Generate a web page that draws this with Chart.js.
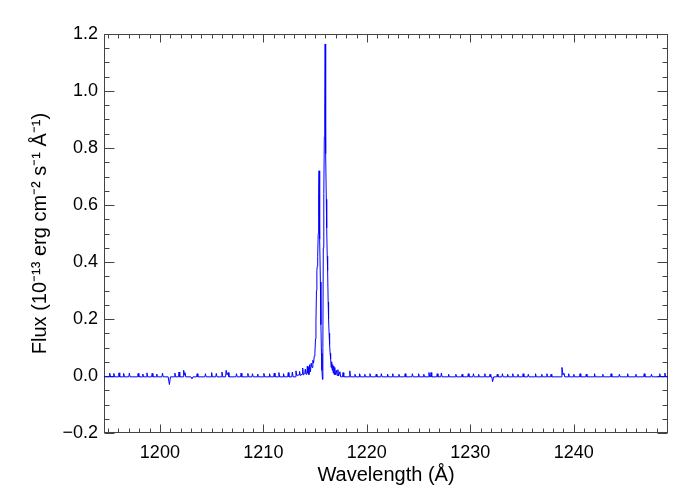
<!DOCTYPE html>
<html>

<head>
    <title>Espectro Lyman alpha</title>
    <script src="https://cdn.jsdelivr.net/npm/chart.js@4.4.2/dist/chart.umd.min.js"></script>
    <style>
        body {
            margin: 0;
            background: #fff;
        }

        .chartBox {
            width: 700px;
            height: 500px;
        }
    </style>
</head>

<body>
    <div class="chartBox">
        <canvas id="spectrumChart" width="700" height="500"></canvas>
    </div>
    <script>
        // wavelength (Å) and flux (1e-13 erg cm-2 s-1 Å-1)
        var wavelength = [
            1194.60, 1195.10, 1195.15, 1195.22, 1195.50, 1195.55, 1195.62, 1196.00, 1196.05, 1196.12,
            1196.45, 1196.50, 1196.57, 1197.00, 1197.05, 1197.12, 1197.85, 1197.90, 1197.97,
            1198.30, 1198.35, 1198.42, 1198.70, 1198.75, 1198.82, 1199.20, 1199.25, 1199.32,
            1199.65, 1199.70, 1199.77, 1200.20, 1200.25, 1200.32, 1200.80, 1200.92, 1201.02,
            1201.40, 1201.45, 1201.52, 1201.80, 1201.85, 1201.92, 1202.25, 1202.30, 1202.35,
            1202.42, 1202.50, 1203.00, 1203.10, 1203.20, 1203.55, 1203.60, 1203.67,
            1204.35, 1204.40, 1204.47, 1204.95, 1205.00, 1205.07, 1205.40, 1205.45, 1205.52,
            1205.95, 1206.00, 1206.07, 1206.35, 1206.40, 1206.50, 1206.60, 1206.67,
            1207.35, 1207.40, 1207.47, 1207.80, 1207.85, 1207.92, 1208.45, 1208.50, 1208.57,
            1208.90, 1208.95, 1209.02, 1209.40, 1209.45, 1209.52, 1210.00, 1210.05, 1210.12,
            1210.55, 1210.60, 1210.67, 1211.00, 1211.05, 1211.12, 1211.45, 1211.50, 1211.57,
            1211.90, 1211.95, 1212.02, 1212.35, 1212.40, 1212.47, 1212.75, 1212.80, 1212.87,
            1213.10, 1213.15, 1213.22, 1213.45, 1213.50, 1213.57, 1213.75, 1213.80, 1213.87,
            1214.00, 1214.05, 1214.12, 1214.20, 1214.25,
            // Lyman alpha
            1214.30, 1214.35, 1214.40, 1214.48, 1214.55, 1214.62, 1214.70, 1214.78, 1214.85, 1214.92,
            1214.98, 1215.04, 1215.08, 1215.13, 1215.17, 1215.21, 1215.25, 1215.30, 1215.34, 1215.38,
            1215.42, 1215.46, 1215.51, 1215.56, 1215.61, 1215.66, 1215.71, 1215.75, 1215.79, 1215.84,
            1215.89, 1215.93, 1215.97, 1216.00, 1216.04, 1216.08, 1216.12, 1216.17, 1216.21, 1216.26,
            1216.30, 1216.35, 1216.40, 1216.45, 1216.50, 1216.55, 1216.60, 1216.65, 1216.70, 1216.75,
            1216.80, 1216.85, 1216.90, 1216.95, 1217.05, 1217.12, 1217.20, 1217.27, 1217.40, 1217.47,
            1217.65, 1217.70, 1217.77, 1218.30, 1218.35, 1218.42,
            // continuum
            1218.80, 1218.85, 1218.92, 1219.25, 1219.30, 1219.37, 1219.75, 1219.80, 1219.87,
            1220.25, 1220.30, 1220.37, 1220.85, 1220.90, 1220.97, 1221.35, 1221.40, 1221.47,
            1221.95, 1222.00, 1222.07, 1222.45, 1222.50, 1222.57, 1223.05, 1223.10, 1223.17,
            1223.65, 1223.70, 1223.77, 1224.35, 1224.40, 1224.47, 1224.95, 1225.00, 1225.07,
            1225.45, 1225.50, 1225.57, 1225.95, 1226.00, 1226.07, 1226.15, 1226.20, 1226.27,
            1226.75, 1226.80, 1226.87, 1227.15, 1227.20, 1227.27, 1227.85, 1227.90, 1227.97,
            1228.55, 1228.60, 1228.67, 1229.15, 1229.20, 1229.27, 1229.75, 1229.80, 1229.87,
            1230.25, 1230.30, 1230.37, 1230.75, 1230.80, 1230.87, 1231.35, 1231.40, 1231.47,
            1231.85, 1231.90, 1231.97, 1232.07, 1232.15, 1232.25, 1232.55, 1232.60, 1232.67,
            1233.05, 1233.10, 1233.17, 1233.55, 1233.60, 1233.67, 1234.05, 1234.10, 1234.17,
            1234.55, 1234.60, 1234.67, 1235.05, 1235.10, 1235.17, 1235.55, 1235.60, 1235.67,
            1236.25, 1236.30, 1236.37, 1236.85, 1236.90, 1236.97, 1237.35, 1237.40, 1237.47,
            1237.75, 1237.80, 1237.87, 1238.78, 1238.85, 1238.95, 1239.05, 1239.12, 1239.45,
            1239.50, 1239.57, 1239.95, 1240.00, 1240.07, 1240.55, 1240.60, 1240.67,
            1241.15, 1241.20, 1241.27, 1241.95, 1242.00, 1242.07, 1242.75, 1242.80, 1242.87,
            1243.55, 1243.60, 1243.67, 1244.35, 1244.40, 1244.47, 1245.15, 1245.20, 1245.27,
            1245.95, 1246.00, 1246.07, 1246.75, 1246.80, 1246.87, 1247.45, 1247.50, 1247.57,
            1248.25, 1248.30, 1248.37, 1248.75, 1248.80, 1248.87, 1249.10
        ];
        var flux = [
            -0.003, -0.003, 0.010, -0.003, -0.003, 0.009, -0.003, -0.003, 0.011, -0.003,
            -0.003, 0.009, -0.003, -0.003, 0.010, -0.003, -0.003, 0.009, -0.003,
            -0.003, 0.007, -0.003, -0.003, 0.011, -0.003, -0.003, 0.009, -0.003,
            -0.003, 0.007, -0.003, -0.003, 0.010, -0.003, -0.003, -0.030, -0.003,
            -0.003, 0.010, -0.003, -0.003, 0.014, -0.003, -0.003, 0.020, 0.004,
            0.012, -0.003, -0.003, -0.010, -0.003, -0.003, 0.008, -0.003,
            -0.003, 0.008, -0.003, -0.003, 0.012, -0.003, -0.003, 0.009, -0.003,
            -0.003, 0.014, -0.003, -0.003, 0.020, 0.004, 0.012, -0.003,
            -0.003, 0.008, -0.003, -0.003, 0.010, -0.003, -0.003, 0.009, -0.003,
            -0.003, 0.008, -0.003, -0.003, 0.007, -0.003, -0.003, 0.009, -0.003,
            -0.003, 0.008, -0.003, -0.003, 0.010, -0.003, -0.003, 0.012, -0.003,
            -0.003, 0.008, -0.003, -0.003, 0.012, -0.003, -0.003, 0.014, -0.003,
            -0.003, 0.018, 0.002, 0.004, 0.016, 0.002, 0.006, 0.028, 0.004,
            0.008, 0.024, 0.006, 0.010, 0.035,
            // Lyman alpha
            0.010, 0.030, 0.005, 0.040, 0.015, 0.045, 0.030, 0.055, 0.045, 0.070,
            0.080, 0.130, 0.190, 0.300, 0.370, 0.385, 0.420, 0.500, 0.640, 0.720,
            0.610, 0.480, 0.330, 0.180, 0.080, 0.020, -0.012, 0.100, 0.450, 0.640,
            0.840, 0.930, 1.165, 0.900, 0.780, 0.620, 0.520, 0.420, 0.370, 0.260,
            0.200, 0.150, 0.110, 0.080, 0.060, 0.030, 0.050, 0.020, 0.040, 0.010,
            0.035, 0.005, 0.030, 0.004, 0.020, 0.002, 0.022, 0.000, 0.015, -0.003,
            -0.003, 0.012, -0.003, -0.003, 0.018, -0.003,
            // continuum
            -0.003, 0.006, -0.003, -0.003, 0.008, -0.003, -0.003, 0.006, -0.003,
            -0.003, 0.008, -0.003, -0.003, 0.006, -0.003, -0.003, 0.008, -0.003,
            -0.003, 0.007, -0.003, -0.003, 0.008, -0.003, -0.003, 0.006, -0.003,
            -0.003, 0.008, -0.003, -0.003, 0.008, -0.003, -0.003, 0.008, -0.003,
            -0.003, 0.006, -0.003, -0.003, 0.012, -0.003, -0.003, 0.012, -0.003,
            -0.003, 0.008, -0.003, -0.003, 0.010, -0.003, -0.003, 0.006, -0.003,
            -0.003, 0.006, -0.003, -0.003, 0.006, -0.003, -0.003, 0.008, -0.003,
            -0.003, 0.008, -0.003, -0.003, 0.006, -0.003, -0.003, 0.008, -0.003,
            -0.003, 0.006, -0.003, -0.003, -0.020, -0.003, -0.003, 0.006, -0.003,
            -0.003, 0.008, -0.003, -0.003, 0.006, -0.003, -0.003, 0.008, -0.003,
            -0.003, 0.006, -0.003, -0.003, 0.008, -0.003, -0.003, 0.006, -0.003,
            -0.003, 0.008, -0.003, -0.003, 0.006, -0.003, -0.003, 0.008, -0.003,
            -0.003, 0.006, -0.003, -0.003, 0.030, 0.004, 0.010, -0.003, -0.003,
            0.008, -0.003, -0.003, 0.006, -0.003, -0.003, 0.008, -0.003,
            -0.003, 0.006, -0.003, -0.003, 0.008, -0.003, -0.003, 0.006, -0.003,
            -0.003, 0.008, -0.003, -0.003, 0.006, -0.003, -0.003, 0.008, -0.003,
            -0.003, 0.006, -0.003, -0.003, 0.008, -0.003, -0.003, 0.006, -0.003,
            -0.003, 0.008, -0.003, -0.003, 0.010, -0.003, -0.003
        ];
        var xTicks = [1200, 1210, 1220, 1230, 1240];
        var yTicks = [-0.2, 0.0, 0.2, 0.4, 0.6, 0.8, 1.0, 1.2];
        var xRange = [1194.6, 1249.1];
        var yRange = [-0.2, 1.2];
        var xMinorStep = 1;
        var yMinorStep = 0.05;

        const fonte = '"Liberation Sans", Arial, Helvetica, sans-serif';

        // moldura com ticks para dentro nos quatro lados
        const moldura = {
            id: 'moldura',
            beforeDatasetsDraw(chart) {
                const { ctx, chartArea: a, scales: { x, y } } = chart;
                const L = Math.round(a.left) + 0.5, R = Math.round(a.right) - 0.5;
                const T = Math.round(a.top) + 0.5, B = Math.round(a.bottom) - 0.5;
                ctx.save();
                ctx.strokeStyle = '#444';
                ctx.lineWidth = 1;
                ctx.strokeRect(L, T, R - L, B - T);
                ctx.beginPath();
                for (let v = Math.ceil(x.min / xMinorStep) * xMinorStep; v <= x.max; v += xMinorStep) {
                    const px = Math.round(x.getPixelForValue(v)) + 0.5;
                    const len = xTicks.includes(Math.round(v)) ? 8 : 4;
                    ctx.moveTo(px, B); ctx.lineTo(px, B - len);
                    ctx.moveTo(px, T); ctx.lineTo(px, T + len);
                }
                const n = Math.round((y.max - y.min) / yMinorStep);
                for (let i = 0; i <= n; i++) {
                    const v = y.min + i * yMinorStep;
                    const py = Math.round(y.getPixelForValue(v)) + 0.5;
                    const major = i % 4 === 0;
                    const len = major ? 10 : 5;
                    ctx.moveTo(L, py); ctx.lineTo(L + len, py);
                    ctx.moveTo(R, py); ctx.lineTo(R - len, py);
                }
                ctx.stroke();
                ctx.restore();
            }
        };

        const ctx = document.getElementById('spectrumChart').getContext('2d');
        const spectrumChart = new Chart(ctx, {
            type: 'scatter',
            data: {
                datasets: [{
                    label: 'Flux',
                    data: wavelength.map((w, i) => ({ x: w, y: flux[i] })),
                    showLine: true,
                    borderColor: '#0000ff',
                    borderWidth: 1,
                    pointRadius: 0,
                    tension: 0,
                    fill: false
                }]
            },
            options: {
                responsive: false,
                animation: false,
                devicePixelRatio: 1,
                layout: { padding: { top: 34, right: 32, left: 0, bottom: 0 } },
                plugins: { legend: { display: false }, tooltip: { enabled: false } },
                scales: {
                    x: {
                        type: 'linear',
                        min: xRange[0],
                        max: xRange[1],
                        grid: { display: false, drawTicks: false },
                        border: { display: false },
                        afterBuildTicks: s => { s.ticks = xTicks.map(v => ({ value: v })); },
                        afterFit: s => { s.height = 67; },
                        ticks: {
                            color: '#000',
                            padding: 9,
                            maxRotation: 0,
                            autoSkip: false,
                            font: { family: fonte, size: 18 },
                            callback: v => String(v)
                        },
                        title: {
                            display: true,
                            text: 'Wavelength (Å)',
                            color: '#000',
                            font: { family: fonte, size: 20 },
                            padding: { top: 0, bottom: 13 }
                        }
                    },
                    y: {
                        type: 'linear',
                        min: yRange[0],
                        max: yRange[1],
                        grid: { display: false, drawTicks: false },
                        border: { display: false },
                        afterBuildTicks: s => { s.ticks = yTicks.map(v => ({ value: v })); },
                        afterFit: s => { s.width = 104; },
                        ticks: {
                            color: '#000',
                            padding: 6,
                            autoSkip: false,
                            font: { family: fonte, size: 18 },
                            callback: v => Number(v).toFixed(1).replace('-', '\u2212')
                        },
                        title: {
                            display: true,
                            text: 'Flux (10\u207B\u00B9\u00B3 erg cm\u207B\u00B2 s\u207B\u00B9 \u00C5\u207B\u00B9)',
                            color: '#000',
                            font: { family: fonte, size: 20 },
                            padding: { top: 28, bottom: 0 }
                        }
                    }
                }
            },
            plugins: [moldura]
        });
    </script>
</body>

</html>
